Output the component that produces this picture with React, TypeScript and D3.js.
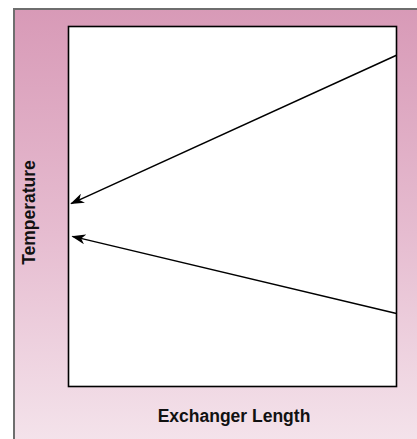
import React from 'react';
import * as d3 from 'd3';

// Exchanger position (0 = left end, 1 = right end) and relative temperature
const hotX = [1, 0.008];
const hotT = [0.92, 0.508];
const coldX = [1, 0.012];
const coldT = [0.203, 0.417];

const xLabel = 'Exchanger Length';
const yLabel = 'Temperature';

const W = 417;
const H = 439;
const plot = { left: 68.5, top: 26.5, right: 396.5, bottom: 386.5 };

export default function App() {
  const x = d3.scaleLinear().domain([0, 1]).range([plot.left, plot.right]);
  const y = d3.scaleLinear().domain([0, 1]).range([plot.bottom, plot.top]);

  const line = d3
    .line<[number, number]>()
    .x(d => x(d[0]))
    .y(d => y(d[1]));

  const hot = hotX.map((v, i) => [v, hotT[i]] as [number, number]);
  const cold = coldX.map((v, i) => [v, coldT[i]] as [number, number]);

  return (
    <div style={{ position: 'absolute', left: 0, top: 0 }}>
      <svg width={W} height={H} style={{ display: 'block' }}>
        <defs>
          <linearGradient id="bg" x1="0" y1="0" x2="0" y2="1">
            <stop offset="0%" stopColor="#d89ab7" />
            <stop offset="50%" stopColor="#e6bcd0" />
            <stop offset="100%" stopColor="#f5e6ed" />
          </linearGradient>
          <marker
            id="arrow"
            viewBox="0 0 14 10"
            refX="13"
            refY="5"
            markerWidth="14"
            markerHeight="10"
            markerUnits="userSpaceOnUse"
            orient="auto"
          >
            <path d="M0,0 L14,5 L0,10 L4,5 Z" fill="#000" />
          </marker>
        </defs>
        <rect x={0} y={0} width={W} height={H} fill="#fff" />
        <rect x={14} y={9} width={W + 10} height={H + 10} fill="url(#bg)" stroke="#6e6e6e" strokeWidth={2} />
        <rect
          x={plot.left}
          y={plot.top}
          width={plot.right - plot.left}
          height={plot.bottom - plot.top}
          fill="#fff"
          stroke="#000"
          strokeWidth={1.6}
        />
        <path d={line(hot) || ''} fill="none" stroke="#000" strokeWidth={1.5} markerEnd="url(#arrow)" />
        <path d={line(cold) || ''} fill="none" stroke="#000" strokeWidth={1.5} markerEnd="url(#arrow)" />
        <text
          x={234}
          y={422}
          textAnchor="middle"
          fontFamily="Liberation Sans, Arial, sans-serif"
          fontWeight="bold"
          fontSize={17.5}
          fill="#111"
        >
          {xLabel}
        </text>
        <text
          transform="translate(35,212.5) rotate(-90)"
          textAnchor="middle"
          fontFamily="Liberation Sans, Arial, sans-serif"
          fontWeight="bold"
          fontSize={17.5}
          fill="#111"
        >
          {yLabel}
        </text>
      </svg>
    </div>
  );
}
